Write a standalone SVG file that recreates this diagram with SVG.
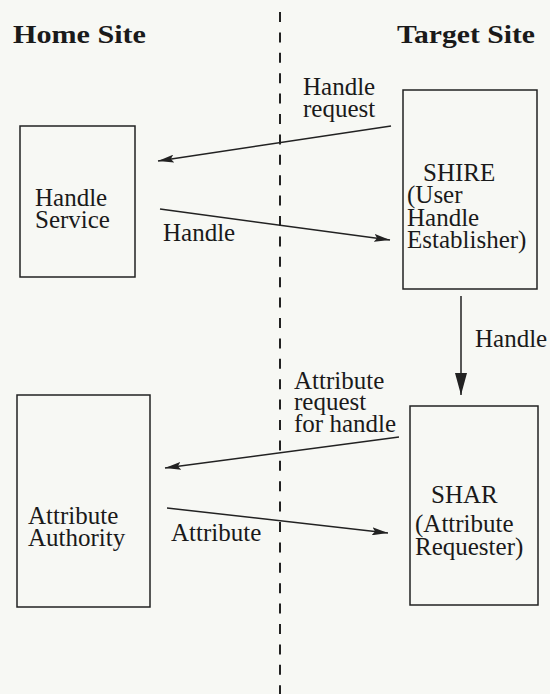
<svg xmlns="http://www.w3.org/2000/svg" width="550" height="694" viewBox="0 0 550 694">
<defs>
<style>
.bg{fill:#f7f8f4}
.box{fill:none;stroke:#222;stroke-width:1.5}
.t{font-family:"Liberation Serif","Times New Roman",serif;font-size:25px;fill:#1a1a1a}
.h{font-family:"Liberation Serif","Times New Roman",serif;font-size:26px;font-weight:bold;fill:#1a1a1a}
.c{stroke:#222;stroke-width:1.5;fill:none}
</style>
<marker id="ah" viewBox="0 0 16 8" refX="16" refY="4" markerWidth="16" markerHeight="8" markerUnits="userSpaceOnUse" orient="auto"><path d="M0,0 L16,4 L0,8 L3,4 Z" fill="#222"/></marker>
<marker id="ahv" viewBox="0 0 22 12" refX="22" refY="6" markerWidth="22" markerHeight="12" markerUnits="userSpaceOnUse" orient="auto"><path d="M0,0 L22,6 L0,12 Z" fill="#222"/></marker>
</defs>
<rect class="bg" x="0" y="0" width="550" height="694"/>
<text class="h" x="13" y="43" textLength="133" lengthAdjust="spacingAndGlyphs">Home Site</text>
<text class="h" x="397" y="43" textLength="138" lengthAdjust="spacingAndGlyphs">Target Site</text>
<line x1="280" y1="12" x2="280" y2="694" stroke="#222" stroke-width="2" stroke-dasharray="10 10.4"/>
<g id="handle-service">
<rect class="box" x="20" y="126" width="115" height="151"/>
<text class="t" x="35" y="206">Handle</text>
<text class="t" x="35" y="228">Service</text>
</g>
<g id="shire">
<rect class="box" x="403" y="90" width="134" height="199"/>
<text class="t" x="423" y="181">SHIRE</text>
<text class="t" x="407" y="203">(User</text>
<text class="t" x="407" y="226">Handle</text>
<text class="t" x="407" y="248">Establisher)</text>
</g>
<g id="attribute-authority">
<rect class="box" x="17" y="395" width="133" height="212"/>
<text class="t" x="28" y="524">Attribute</text>
<text class="t" x="28" y="546">Authority</text>
</g>
<g id="shar">
<rect class="box" x="410" y="406" width="128" height="199"/>
<text class="t" x="431" y="503">SHAR</text>
<text class="t" x="415" y="532">(Attribute</text>
<text class="t" x="415" y="555">Requester)</text>
</g>
<g id="connectors">
<line class="c" x1="391" y1="126" x2="158" y2="161" marker-end="url(#ah)"/>
<line class="c" x1="160" y1="209" x2="390" y2="240" marker-end="url(#ah)"/>
<line class="c" x1="461" y1="296" x2="461" y2="395" marker-end="url(#ahv)"/>
<line class="c" x1="399" y1="437" x2="165" y2="468" marker-end="url(#ah)"/>
<line class="c" x1="167" y1="508" x2="388" y2="533" marker-end="url(#ah)"/>
<text class="t" x="303" y="95">Handle</text>
<text class="t" x="303" y="117">request</text>
<text class="t" x="163" y="241">Handle</text>
<text class="t" x="475" y="347">Handle</text>
<text class="t" x="294" y="389">Attribute</text>
<text class="t" x="294" y="410">request</text>
<text class="t" x="294" y="432">for handle</text>
<text class="t" x="171" y="541">Attribute</text>
</g>
</svg>
